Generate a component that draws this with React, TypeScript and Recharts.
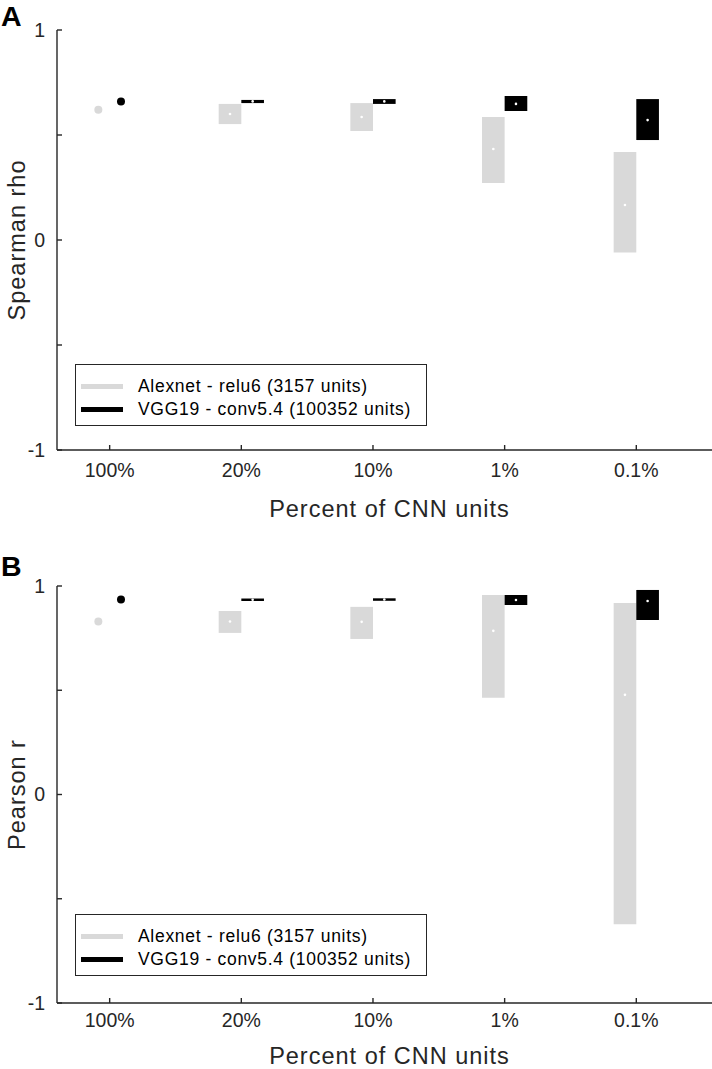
import React from 'react'
import { ComposedChart, XAxis, YAxis, Scatter, ReferenceArea, Legend } from 'recharts'

const categories = ['100%', '20%', '10%', '1%', '0.1%']
const catPos = [1, 2, 3, 4, 5]
const yTicks = [-1, -0.5, 0, 0.5, 1]
const legendNames = ['Alexnet - relu6 (3157 units)', 'VGG19 - conv5.4 (100352 units)']

// A: Spearman rho (median + range over unit subsets; 100% has a single value)
const rhoAlexMedian = [0.62, 0.6, 0.586, 0.433, 0.167]
const rhoAlexLow = [null, 0.552, 0.519, 0.271, -0.06]
const rhoAlexHigh = [null, 0.648, 0.652, 0.586, 0.419]
const rhoVggMedian = [0.66, 0.66, 0.66, 0.648, 0.571]
const rhoVggLow = [null, 0.652, 0.648, 0.614, 0.476]
const rhoVggHigh = [null, 0.667, 0.671, 0.686, 0.671]

// B: Pearson r
const rAlexMedian = [0.83, 0.83, 0.828, 0.785, 0.478]
const rAlexLow = [null, 0.775, 0.746, 0.464, -0.622]
const rAlexHigh = [null, 0.88, 0.9, 0.957, 0.919]
const rVggMedian = [0.935, 0.934, 0.935, 0.933, 0.928]
const rVggLow = [null, 0.928, 0.929, 0.909, 0.837]
const rVggHigh = [null, 0.94, 0.941, 0.957, 0.981]

const GRAY = '#d9d9d9'
const BLACK = '#000000'
const AXIS = '#262626'
const FONT = '"Liberation Sans", Arial, sans-serif'
const BOX_W = 0.172
const legendColors = [GRAY, BLACK]

type Series = { median: number[]; low: (number | null)[]; high: (number | null)[] }

const renderLegend = () => (
  <div
    style={{
      width: 352,
      height: 62,
      boxSizing: 'border-box',
      border: `1px solid ${AXIS}`,
      background: '#fff',
      position: 'relative',
      fontFamily: FONT,
      fontSize: 17.5,
      letterSpacing: 0.7,
      color: '#000',
    }}
  >
    {legendNames.map((name, i) => (
      <div
        key={name}
        style={{ position: 'absolute', left: 0, top: 10 + i * 23, height: 22, display: 'flex', alignItems: 'center', whiteSpace: 'nowrap' }}
      >
        <span style={{ display: 'inline-block', width: 42, height: 5, background: legendColors[i], marginLeft: 5, marginRight: 15 }} />
        <span>{name}</span>
      </div>
    ))}
  </div>
)

const xTitle = (baseline: number) => (props: any) => {
  const vb = props.viewBox
  return (
    <text x={vb.x + vb.width / 2 + 5} y={vb.y + baseline} textAnchor="middle" fill={AXIS} fontSize={23.5} letterSpacing={1} fontFamily={FONT}>
      Percent of CNN units
    </text>
  )
}

// y title plus the panel letter, both drawn inside the chart svg
const yTitle = (text: string, letter: string, letterY: number) => (props: any) => {
  const vb = props.viewBox
  const cx = 17
  const cy = vb.y + vb.height / 2
  return (
    <g>
      <text x={1} y={letterY} fill="#000" fontSize={28.5} fontWeight={700} fontFamily={FONT}>
        {letter}
      </text>
      <text
        x={cx}
        y={cy}
        transform={`rotate(-90, ${cx}, ${cy})`}
        textAnchor="middle"
        dominantBaseline="central"
        fill={AXIS}
        fontSize={23.5}
        letterSpacing={1}
        fontFamily={FONT}
      >
        {text}
      </text>
    </g>
  )
}

function Panel({
  letter,
  letterY,
  title,
  alex,
  vgg,
  top,
  height,
  marginTop,
  plotHeight,
  xTickMargin,
  xTitleY,
  legendTop,
}: {
  letter: string
  letterY: number
  title: string
  alex: Series
  vgg: Series
  top: number
  height: number
  marginTop: number
  plotHeight: number
  xTickMargin: number
  xTitleY: number
  legendTop: number
}) {
  const alexOff = -BOX_W / 2
  const vggOff = BOX_W / 2
  const single = (s: Series, off: number) =>
    catPos.filter((_, i) => s.low[i] == null).map((c) => ({ x: c + off, y: s.median[catPos.indexOf(c)] }))
  const medians = (s: Series, off: number) =>
    catPos.filter((_, i) => s.low[i] != null).map((c) => ({ x: c + off, y: s.median[catPos.indexOf(c)] }))

  const boxes = (s: Series, left: number, color: string, key: string) =>
    catPos.map((c, i) =>
      s.low[i] == null ? null : (
        <ReferenceArea
          key={`${key}-${i}`}
          x1={c + left}
          x2={c + left + BOX_W}
          y1={s.low[i] as number}
          y2={s.high[i] as number}
          fill={color}
          fillOpacity={1}
          stroke="none"
          ifOverflow="visible"
        />
      ),
    )

  const axisLine = { stroke: AXIS, strokeWidth: 1.4 }

  return (
    <div style={{ position: 'absolute', left: 0, top, width: 712, height }}>
      <ComposedChart width={712} height={height} margin={{ top: marginTop, right: 0, left: 0, bottom: 0 }}>
        <XAxis
          type="number"
          dataKey="x"
          domain={[0.6, 5.575]}
          ticks={catPos}
          tickFormatter={(v: number) => categories[v - 1]}
          allowDataOverflow
          height={height - marginTop - plotHeight}
          tickSize={-5}
          tickMargin={xTickMargin}
          stroke={AXIS}
          axisLine={axisLine}
          tickLine={axisLine}
          tick={{ fill: AXIS, fontSize: 19.5, fontFamily: FONT }}
          label={{ content: xTitle(xTitleY) }}
        />
        <YAxis
          type="number"
          dataKey="y"
          domain={[-1, 1]}
          ticks={yTicks}
          tickFormatter={(v: number) => (Math.abs(v) === 0.5 ? '' : String(v))}
          allowDataOverflow
          width={57}
          tickSize={-5}
          tickMargin={17}
          stroke={AXIS}
          axisLine={axisLine}
          tickLine={axisLine}
          tick={{ fill: AXIS, fontSize: 19.5, fontFamily: FONT }}
          label={{ content: yTitle(title, letter, letterY) }}
        />
        {boxes(alex, -BOX_W, GRAY, 'alex')}
        {boxes(vgg, 0, BLACK, 'vgg')}
        <Scatter
          name={legendNames[0]}
          data={single(alex, alexOff)}
          fill={GRAY}
          isAnimationActive={false}
          shape={(p: any) => <circle cx={p.cx} cy={p.cy} r={4} fill={GRAY} />}
        />
        <Scatter
          name={legendNames[1]}
          data={single(vgg, vggOff)}
          fill={BLACK}
          isAnimationActive={false}
          shape={(p: any) => <circle cx={p.cx} cy={p.cy} r={4} fill={BLACK} />}
        />
        <Scatter
          data={medians(alex, alexOff)}
          legendType="none"
          isAnimationActive={false}
          shape={(p: any) => <circle cx={p.cx} cy={p.cy} r={1.3} fill="#fff" />}
        />
        <Scatter
          data={medians(vgg, vggOff)}
          legendType="none"
          isAnimationActive={false}
          shape={(p: any) => <circle cx={p.cx} cy={p.cy} r={1.3} fill="#fff" />}
        />
        <Legend
          layout="horizontal"
          verticalAlign="middle"
          align="center"
          content={renderLegend}
          wrapperStyle={{ left: 75, top: legendTop, width: 352, height: 62 }}
        />
      </ComposedChart>
    </div>
  )
}

export default function App() {
  return (
    <div style={{ position: 'relative', width: 712, height: 1069, background: '#fff', overflow: 'hidden', fontFamily: FONT }}>
      <style>{'html, body { margin: 0; padding: 0; overflow: hidden; }'}</style>
      <Panel
        letter="A"
        letterY={26}
        title="Spearman rho"
        alex={{ median: rhoAlexMedian, low: rhoAlexLow, high: rhoAlexHigh }}
        vgg={{ median: rhoVggMedian, low: rhoVggLow, high: rhoVggHigh }}
        top={0}
        height={530}
        marginTop={30}
        plotHeight={420}
        xTickMargin={18}
        xTitleY={67}
        legendTop={364}
      />
      <Panel
        letter="B"
        letterY={36}
        title="Pearson r"
        alex={{ median: rAlexMedian, low: rAlexLow, high: rAlexHigh }}
        vgg={{ median: rVggMedian, low: rVggLow, high: rVggHigh }}
        top={540}
        height={529}
        marginTop={46}
        plotHeight={417}
        xTickMargin={15}
        xTitleY={61}
        legendTop={374}
      />
    </div>
  )
}
